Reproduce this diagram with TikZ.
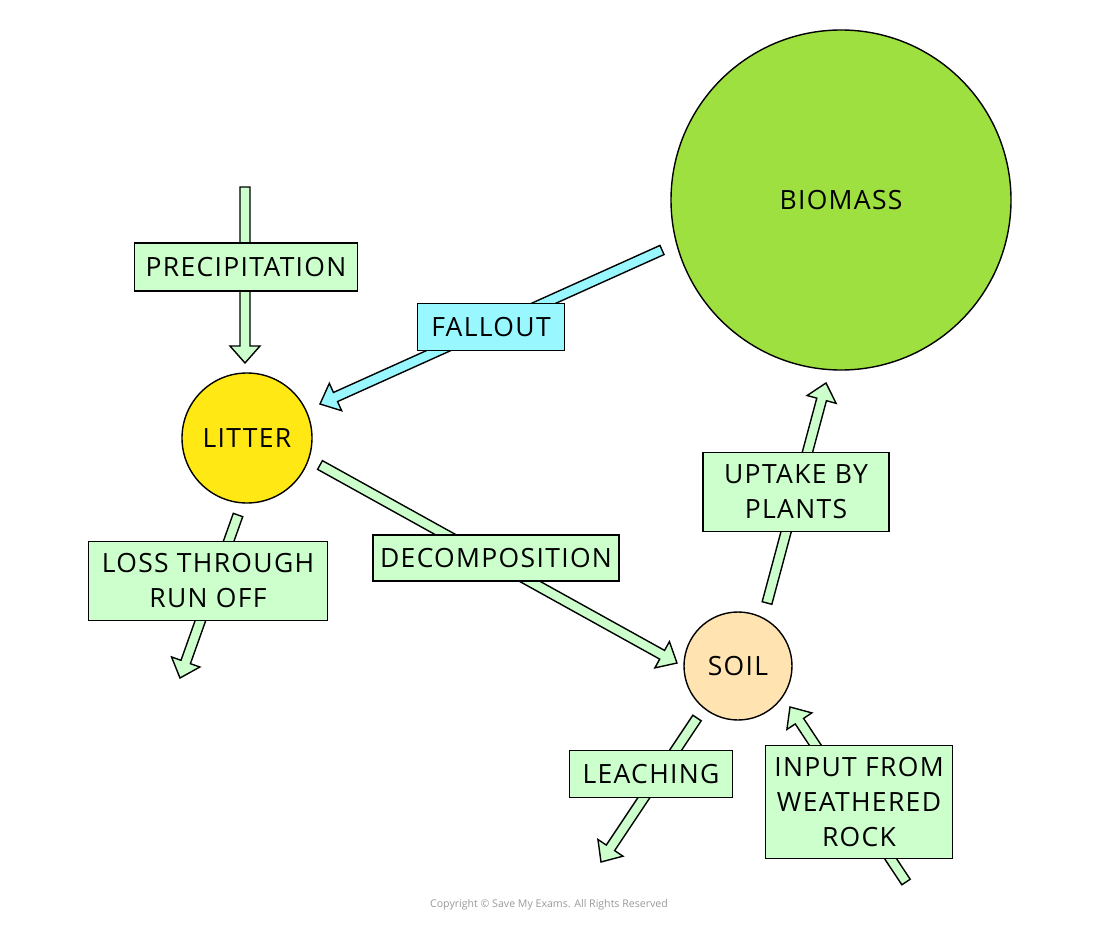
\documentclass[tikz,border=0pt]{standalone}
\usepackage{fontspec}
\setmainfont{Open Sans}
\newfontfamily\labelfont[LetterSpace=5]{Open Sans}
\usetikzlibrary{calc}
\definecolor{boxgreen}{RGB}{204,255,204}
\definecolor{fallcyan}{RGB}{153,248,255}
\definecolor{biogreen}{RGB}{158,224,64}
\definecolor{lityellow}{RGB}{255,232,20}
\definecolor{soilpeach}{RGB}{255,228,178}
\newcommand\flowarrow[3]{%
  \coordinate (h#2) at ($(#3)!17pt!(#2)$);
  \filldraw[fill=#1, draw=black, line width=1.4pt, line join=miter]
    ($(#2)!5pt!90:(#3)$) -- ($(h#2)!5pt!90:(#3)$) -- ($(h#2)!15pt!90:(#3)$) -- (#3)
    -- ($(h#2)!15pt!-90:(#3)$) -- ($(h#2)!5pt!-90:(#3)$) -- ($(#2)!5pt!-90:(#3)$) -- cycle;}
\begin{document}
\begin{tikzpicture}[x=1pt,y=-1pt,
  lbl/.style={draw=black, line width=1.5pt, fill=boxgreen, align=center, inner sep=2pt,
    font=\labelfont\fontsize{26.5}{35}\selectfont},
  pool/.style={circle, draw=black, line width=1.4pt, inner sep=0pt, font=\labelfont\fontsize{26.5}{30}\selectfont}]
\useasboundingbox (0,0) rectangle (1100,928);
% circles
\node[pool, fill=biogreen, minimum size=340pt] (biomass) at (841,200) {BIOMASS};
\node[pool, fill=lityellow, minimum size=130pt] (litter) at (247,438) {LITTER};
\node[pool, fill=soilpeach, minimum size=108pt] (soil) at (738,666) {SOIL};
% arrow end points
\coordinate (precA) at (245,187); \coordinate (precB) at (245,363);
\coordinate (fallA) at (662,250); \coordinate (fallB) at (320,404);
\coordinate (decA) at (320,465);  \coordinate (decB) at (677,663);
\coordinate (lossA) at (238,515); \coordinate (lossB) at (180,678);
\coordinate (upA) at (767,603);   \coordinate (upB) at (826,383);
\coordinate (leaA) at (697,718);  \coordinate (leaB) at (601,862);
\coordinate (inA) at (906,882);   \coordinate (inB) at (790,707);
% arrows
\flowarrow{boxgreen}{precA}{precB}
\flowarrow{fallcyan}{fallA}{fallB}
\flowarrow{boxgreen}{decA}{decB}
\flowarrow{boxgreen}{lossA}{lossB}
\flowarrow{boxgreen}{upA}{upB}
\flowarrow{boxgreen}{leaA}{leaB}
\flowarrow{boxgreen}{inA}{inB}
% labels
\node[lbl, minimum width=223pt, minimum height=48pt] (prec) at (246,267) {PRECIPITATION};
\node[lbl, fill=fallcyan, minimum width=147pt, minimum height=47pt] (fall) at (491,327) {FALLOUT};
\node[lbl, minimum width=239pt, minimum height=79pt] (loss) at (208,581) {LOSS THROUGH\\RUN OFF};
\node[lbl, minimum width=246pt, minimum height=46pt] (dec) at (496,558) {DECOMPOSITION};
\node[lbl, minimum width=186pt, minimum height=79pt] (up) at (796,492) {UPTAKE BY\\PLANTS};
\node[lbl, minimum width=163pt, minimum height=47pt] (lea) at (651,774) {LEACHING};
\node[lbl, minimum width=187pt, minimum height=113pt] (inp) at (859,802) {INPUT FROM\\WEATHERED\\ROCK};
\node[text=black!40, font=\fontsize{10.6}{12}\selectfont] (copy) at (549,905) {Copyright © Save My Exams. All Rights Reserved};
\end{tikzpicture}
\end{document}
